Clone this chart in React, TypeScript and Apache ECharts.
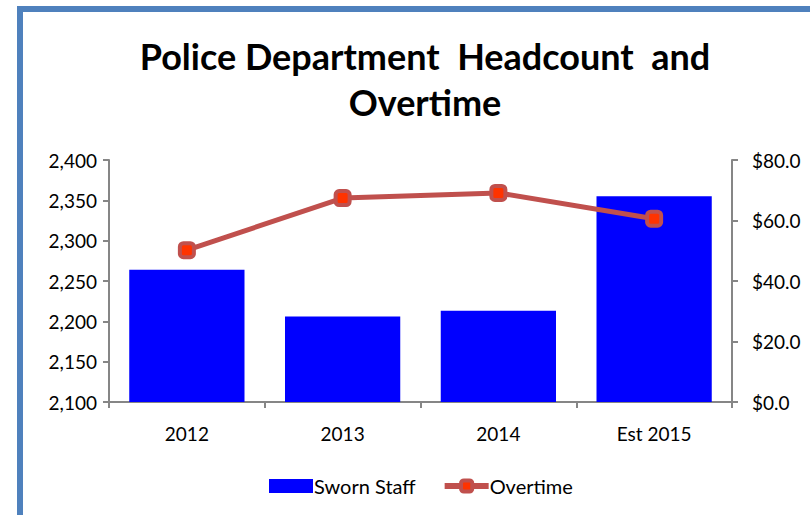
import React, { useEffect, useRef } from "react";
import * as echarts from "echarts";

const categories = ["2012", "2013", "2014", "Est 2015"];
const swornStaff = [2264, 2206, 2213, 2355];
const overtime = [50.2, 67.4, 69.1, 60.6];
const titleText = "Police Department  Headcount  and\nOvertime";

export default function App() {
  const ref = useRef<HTMLDivElement>(null);
  useEffect(() => {
    if (!ref.current) return;
    const chart = echarts.init(ref.current, null, { renderer: "svg" });
    const font = "Lato";
    const axisColor = "#868686";
    chart.setOption({
      animation: false,
      backgroundColor: "#ffffff",
      textStyle: { fontFamily: font, color: "#000" },
      title: {
        text: titleText,
        left: 420,
        textAlign: "center",
        top: 28,
        textStyle: {
          fontFamily: font,
          fontWeight: "bold",
          fontSize: 36,
          lineHeight: 46,
          color: "#000",
        },
      },
      graphic: [
        { type: "rect", shape: { x: 17, y: 6, width: 6, height: 509 }, style: { fill: "#4F81BD" } },
        { type: "rect", shape: { x: 17, y: 6, width: 793, height: 6 }, style: { fill: "#4F81BD" } },
      ],
      legend: {
        top: 476,
        left: 269,
        padding: 0,
        itemGap: 26,
        itemWidth: 44,
        itemHeight: 14,
        textStyle: { fontFamily: font, fontSize: 20, color: "#000", padding: [0, 0, 0, -4] },
        data: [
          { name: "Sworn Staff", icon: "rect" },
          {
            name: "Overtime",
            lineStyle: { color: "#C0504D", width: 6 },
            itemStyle: { color: "#FF3300", borderColor: "#C0504D", borderWidth: 4 },
          },
        ],
      },
      grid: { left: 109, right: 78, top: 160, bottom: 113 },
      xAxis: {
        type: "category",
        data: categories,
        axisLine: { lineStyle: { color: axisColor, width: 2 } },
        axisTick: { show: true, length: 6, lineStyle: { color: axisColor, width: 2 } },
        axisLabel: { fontFamily: font, fontSize: 19, color: "#000", margin: 22 },
      },
      yAxis: [
        {
          type: "value",
          min: 2100,
          max: 2400,
          interval: 50,
          splitLine: { show: false },
          axisLine: { show: true, lineStyle: { color: axisColor, width: 2 } },
          axisTick: { show: true, length: 6, lineStyle: { color: axisColor, width: 2 } },
          axisLabel: {
            fontFamily: font,
            fontSize: 19,
            color: "#000",
            margin: 12,
            formatter: (v: number) => v.toLocaleString("en-US"),
          },
        },
        {
          type: "value",
          min: 0,
          max: 80,
          interval: 20,
          position: "right",
          splitLine: { show: false },
          axisLine: { show: true, lineStyle: { color: axisColor, width: 2 } },
          axisTick: { show: true, length: 6, lineStyle: { color: axisColor, width: 2 } },
          axisLabel: {
            fontFamily: font,
            fontSize: 19,
            color: "#000",
            margin: 20,
            formatter: (v: number) => "$" + v.toFixed(1),
          },
        },
      ],
      series: [
        {
          name: "Sworn Staff",
          type: "bar",
          data: swornStaff,
          yAxisIndex: 0,
          barCategoryGap: "26%",
          itemStyle: { color: "#0000FF" },
        },
        {
          name: "Overtime",
          type: "line",
          data: overtime,
          yAxisIndex: 1,
          symbol: "roundRect",
          symbolSize: 14,
          lineStyle: { color: "#C0504D", width: 5 },
          itemStyle: { color: "#FF3300", borderColor: "#C0504D", borderWidth: 4 },
        },
      ],
    });
    return () => chart.dispose();
  }, []);
  return <div ref={ref} style={{ width: 810, height: 515, position: "absolute", left: 0, top: 0 }} />;
}
